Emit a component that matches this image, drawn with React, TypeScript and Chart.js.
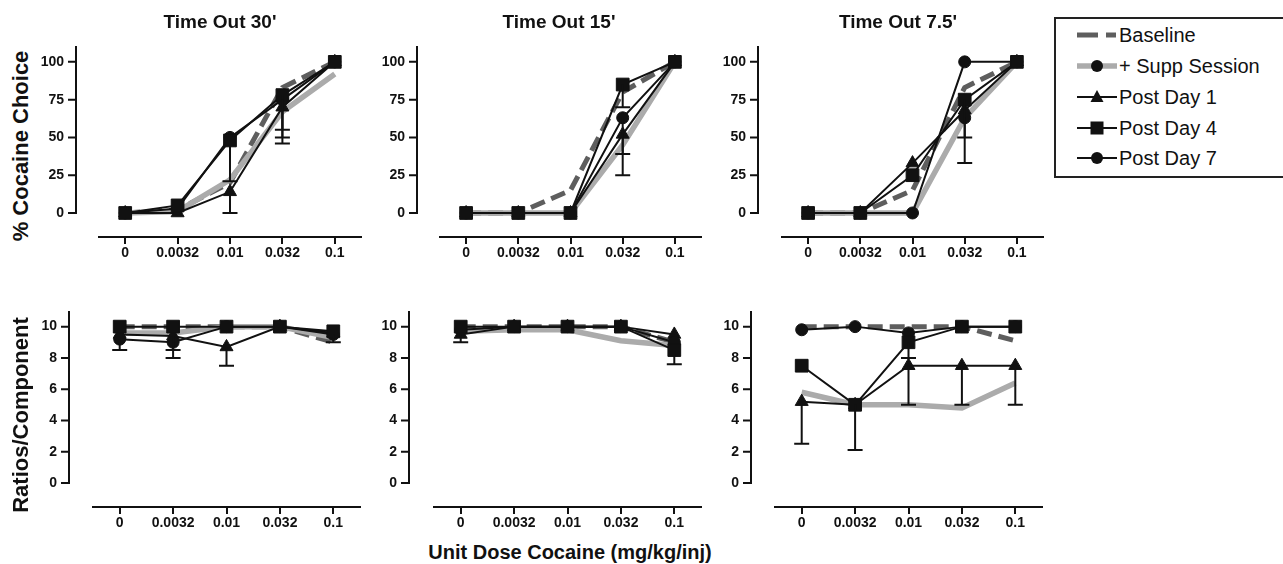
import React, { useEffect, useRef } from 'react';
import { Chart, registerables } from 'chart.js';

Chart.register(...registerables);

const FONT = "'Liberation Sans', Arial, sans-serif";

// ---------- data ----------
const doses = ['0', '0.0032', '0.01', '0.032', '0.1'];
const seriesNames = ['Baseline', '+ Supp Session', 'Post Day 1', 'Post Day 4', 'Post Day 7'];
const panelTitles = ["Time Out 30'", "Time Out 15'", "Time Out 7.5'"];
const choiceTicks = [0, 25, 50, 75, 100];
const ratioTicks = [0, 2, 4, 6, 8, 10];

// rows follow seriesNames: Baseline, + Supp Session, Post Day 1, Post Day 4, Post Day 7
const choice30 = [
  [0, 2, 20, 83, 100],
  [0, 1, 22, 67, 92],
  [0, 0, 14, 70, 100],
  [0, 5, 48, 78, 100],
  [0, 3, 50, 75, 100],
];
// lower end of each error bar (null = no bar)
const choice30Low = [
  [null, null, null, null, null],
  [null, null, null, null, null],
  [null, null, 0, 46, null],
  [null, null, 21, 55, null],
  [null, null, null, 50, null],
];

const choice15 = [
  [0, 0, 15, 80, 100],
  [0, 0, 0, 45, 100],
  [0, 0, 0, 52, 100],
  [0, 0, 0, 85, 100],
  [0, 0, 0, 63, 100],
];
const choice15Low = [
  [null, null, null, null, null],
  [null, null, null, null, null],
  [null, null, null, 25, null],
  [null, null, null, 70, null],
  [null, null, null, 39, null],
];

const choice75 = [
  [0, 0, 15, 83, 100],
  [0, 0, 0, 63, 100],
  [0, 0, 33, 68, 100],
  [0, 0, 25, 75, 100],
  [0, 0, 0, 100, 100],
];
const choice75Low = [
  [null, null, null, null, null],
  [null, null, null, 33, null],
  [null, null, null, null, null],
  [null, null, null, 50, null],
  [null, null, null, null, null],
];
const choice75SuppMarked = [3];

const ratio30 = [
  [10, 10, 10, 10, 9.0],
  [9.6, 9.6, 10, 10, 9.3],
  [9.5, 9.4, 8.7, 10, 9.6],
  [10, 10, 10, 10, 9.7],
  [9.2, 9.0, 10, 10, 9.5],
];
const ratio30Low = [
  [null, null, null, null, null],
  [null, null, null, null, null],
  [null, 8.5, 7.5, null, null],
  [null, null, null, null, null],
  [8.5, 8.0, null, null, 9.0],
];

const ratio15 = [
  [10, 10, 10, 10, 9.0],
  [9.7, 9.8, 9.8, 9.1, 8.8],
  [9.5, 10, 10, 10, 9.5],
  [10, 10, 10, 10, 8.5],
  [9.8, 10, 10, 10, 9.0],
];
const ratio15Low = [
  [null, null, null, null, null],
  [null, null, null, null, null],
  [9.0, null, null, null, null],
  [null, null, null, null, 7.6],
  [null, null, null, null, null],
];

const ratio75 = [
  [10, 10, 10, 10, 9.1],
  [5.8, 5.0, 5.0, 4.8, 6.4],
  [5.2, 5.0, 7.5, 7.5, 7.5],
  [7.5, 5.0, 9.0, 10, 10],
  [9.8, 10, 9.6, 10, 10],
];
const ratio75Low = [
  [null, null, null, null, null],
  [null, null, null, null, null],
  [2.5, null, 5.0, 5.0, 5.0],
  [null, 2.1, 8.0, null, null],
  [null, null, null, null, null],
];

// ---------- styles / layout ----------
const seriesStyles = [
  { color: '#5e5e5e', width: 5, dash: [15, 7], point: false as any, radius: 0, order: 4 },
  { color: '#ababab', width: 5.5, dash: [], point: 'circle', radius: 6, order: 3 },
  { color: '#111111', width: 2, dash: [], point: 'triangle', radius: 7.5, order: 2 },
  { color: '#111111', width: 2, dash: [], point: 'rect', radius: 9, order: 0 },
  { color: '#111111', width: 2, dash: [], point: 'circle', radius: 6, order: 1 },
];

const topRange = { min: -15.9, max: 110.5 };
const bottomRange = { min: -1.54, max: 11 };

const panels = [
  { values: choice30, low: choice30Low, ticks: choiceTicks, range: topRange, suppMarked: [] as number[], left: 99, right: 361, top: 46, bottom: 237, gap: 23 },
  { values: choice15, low: choice15Low, ticks: choiceTicks, range: topRange, suppMarked: [] as number[], left: 440, right: 701, top: 46, bottom: 237, gap: 23 },
  { values: choice75, low: choice75Low, ticks: choiceTicks, range: topRange, suppMarked: choice75SuppMarked, left: 782, right: 1043, top: 46, bottom: 237, gap: 24 },
  { values: ratio30, low: ratio30Low, ticks: ratioTicks, range: bottomRange, suppMarked: [] as number[], left: 93, right: 360, top: 311, bottom: 507, gap: 24 },
  { values: ratio15, low: ratio15Low, ticks: ratioTicks, range: bottomRange, suppMarked: [] as number[], left: 434, right: 701, top: 311, bottom: 507, gap: 25 },
  { values: ratio75, low: ratio75Low, ticks: ratioTicks, range: bottomRange, suppMarked: [] as number[], left: 775, right: 1042, top: 311, bottom: 507, gap: 24 },
];

const Y_W = 60;
const PAD_TOP = 20;
const PAD_RIGHT = 10;
const X_H = 32;

function Panel({ p }: { p: (typeof panels)[number] }) {
  const ref = useRef<HTMLCanvasElement>(null);
  const w = p.right - p.left + Y_W + PAD_RIGHT;
  const h = p.bottom - p.top + PAD_TOP + X_H;

  useEffect(() => {
    const yAxisPlugin = {
      id: 'offsetYAxis',
      afterDraw(chart: any) {
        const ys = chart.scales.y;
        const ctx = chart.ctx;
        const x = chart.chartArea.left - p.gap;
        ctx.save();
        ctx.strokeStyle = '#111';
        ctx.lineWidth = 2;
        ctx.beginPath();
        ctx.moveTo(x, chart.chartArea.top);
        ctx.lineTo(x, ys.getPixelForValue(0) + 1);
        p.ticks.forEach((v) => {
          const py = ys.getPixelForValue(v);
          ctx.moveTo(x - 8, py);
          ctx.lineTo(x, py);
        });
        ctx.stroke();
        ctx.restore();
      },
    };
    const errorPlugin = {
      id: 'errorBars',
      afterDatasetsDraw(chart: any) {
        const xs = chart.scales.x;
        const ys = chart.scales.y;
        const ctx = chart.ctx;
        ctx.save();
        ctx.strokeStyle = '#111';
        ctx.lineWidth = 2;
        p.low.forEach((row, si) => {
          row.forEach((lo, di) => {
            if (lo === null || lo === undefined) return;
            const px = xs.getPixelForValue(di);
            const y0 = ys.getPixelForValue(p.values[si][di]);
            const y1 = ys.getPixelForValue(lo);
            ctx.beginPath();
            ctx.moveTo(px, y0);
            ctx.lineTo(px, y1);
            ctx.moveTo(px - 7.5, y1);
            ctx.lineTo(px + 7.5, y1);
            ctx.stroke();
          });
        });
        ctx.restore();
      },
    };

    const datasets = p.values.map((vals, si) => {
      const st = seriesStyles[si];
      const isSupp = si === 1;
      return {
        label: seriesNames[si],
        data: vals,
        borderColor: st.color,
        borderWidth: st.width,
        borderDash: st.dash,
        borderCapStyle: 'butt',
        borderJoinStyle: 'miter',
        tension: 0,
        order: st.order,
        pointStyle: st.point,
        pointRadius: isSupp
          ? (c: any) => (p.suppMarked.includes(c.dataIndex) ? st.radius : 0)
          : st.radius,
        pointBackgroundColor: '#111',
        pointBorderColor: '#111',
        pointBorderWidth: 1,
        pointHoverRadius: 0,
        fill: false,
        clip: false,
      };
    });

    const chart = new Chart(ref.current as HTMLCanvasElement, {
      type: 'line',
      data: { labels: doses, datasets: datasets as any },
      options: {
        responsive: false,
        devicePixelRatio: 1,
        animation: false,
        events: [],
        layout: { padding: { top: PAD_TOP, right: PAD_RIGHT, left: 0, bottom: 0 } },
        plugins: { legend: { display: false }, title: { display: false }, tooltip: { enabled: false } },
        scales: {
          x: {
            type: 'category',
            labels: doses,
            offset: true,
            afterFit: (s: any) => { s.height = X_H; },
            grid: { display: true, drawOnChartArea: false, drawTicks: true, tickLength: 7, color: '#111', lineWidth: 2 },
            border: { display: true, color: '#111', width: 2 },
            ticks: { padding: 1, color: '#111', maxRotation: 0, autoSkip: false, font: { family: FONT, size: 14, weight: 'bold' } },
          },
          y: {
            type: 'linear',
            min: p.range.min,
            max: p.range.max,
            afterFit: (s: any) => { s.width = Y_W; },
            afterBuildTicks: (s: any) => { s.ticks = p.ticks.map((v) => ({ value: v })); },
            grid: { display: true, drawOnChartArea: false, drawTicks: true, tickLength: p.gap + 9, color: 'rgba(0,0,0,0)' },
            border: { display: false },
            ticks: {
              padding: 3,
              color: '#111',
              font: { family: FONT, size: 14, weight: 'bold' },
              callback: (v: any) => String(v),
            },
          },
        },
      },
      plugins: [yAxisPlugin, errorPlugin],
    } as any);
    return () => chart.destroy();
  }, []);

  return (
    <canvas
      ref={ref}
      width={w}
      height={h}
      style={{ position: 'absolute', left: p.left - Y_W, top: p.top - PAD_TOP, width: w, height: h }}
    />
  );
}

function LegendIcon({ i }: { i: number }) {
  const st = seriesStyles[i];
  const cx = 22;
  const cy = 10;
  let line: React.ReactNode;
  if (i === 0) {
    line = (
      <g stroke={st.color} strokeWidth={5}>
        <line x1={2} y1={cy} x2={23} y2={cy} />
        <line x1={31} y1={cy} x2={41} y2={cy} />
      </g>
    );
  } else {
    line = <line x1={2} y1={cy} x2={42} y2={cy} stroke={st.color} strokeWidth={st.width} />;
  }
  let marker: React.ReactNode = null;
  if (st.point === 'circle') marker = <circle cx={cx} cy={cy} r={6} fill="#111" />;
  if (st.point === 'rect') marker = <rect x={cx - 6.5} y={cy - 6.5} width={13} height={13} fill="#111" />;
  if (st.point === 'triangle') marker = <polygon points={`${cx},${cy - 7} ${cx + 6.5},${cy + 5} ${cx - 6.5},${cy + 5}`} fill="#111" />;
  return (
    <svg width={44} height={20} style={{ position: 'absolute', left: 0, top: 0 }}>
      {line}
      {marker}
    </svg>
  );
}

export default function App() {
  const legendRows = [35, 66, 97, 128, 158];
  const titleCenters = [220, 559, 898];
  return (
    <div style={{ position: 'absolute', left: 0, top: 0, width: 1283, height: 564, background: '#fff', overflow: 'hidden', fontFamily: FONT, color: '#111' }}>
      {panels.map((p, i) => (
        <Panel key={i} p={p} />
      ))}
      {panelTitles.map((t, i) => (
        <div key={t} style={{ position: 'absolute', left: titleCenters[i] - 120, top: 12, width: 240, textAlign: 'center', fontSize: 19, fontWeight: 'bold', lineHeight: '20px', whiteSpace: 'nowrap' }}>
          {t}
        </div>
      ))}
      <div style={{ position: 'absolute', left: 21 - 120, top: 146 - 14, width: 240, height: 28, lineHeight: '28px', textAlign: 'center', fontSize: 22, fontWeight: 'bold', transform: 'rotate(-90deg)', whiteSpace: 'nowrap' }}>
        % Cocaine Choice
      </div>
      <div style={{ position: 'absolute', left: 21 - 120, top: 415 - 14, width: 240, height: 28, lineHeight: '28px', textAlign: 'center', fontSize: 22, fontWeight: 'bold', transform: 'rotate(-90deg)', whiteSpace: 'nowrap' }}>
        Ratios/Component
      </div>
      <div style={{ position: 'absolute', left: 570 - 200, top: 552 - 12, width: 400, lineHeight: '24px', textAlign: 'center', fontSize: 20, fontWeight: 'bold', whiteSpace: 'nowrap' }}>
        Unit Dose Cocaine (mg/kg/inj)
      </div>
      <div style={{ position: 'absolute', left: 1054, top: 17, width: 240, height: 157, border: '2px solid #222' }} />
      {seriesNames.map((n, i) => (
        <div key={n} style={{ position: 'absolute', left: 1075, top: legendRows[i] - 10, height: 20 }}>
          <LegendIcon i={i} />
          <div style={{ position: 'absolute', left: 44, top: -2, fontSize: 20, lineHeight: '24px', whiteSpace: 'nowrap' }}>{n}</div>
        </div>
      ))}
    </div>
  );
}
